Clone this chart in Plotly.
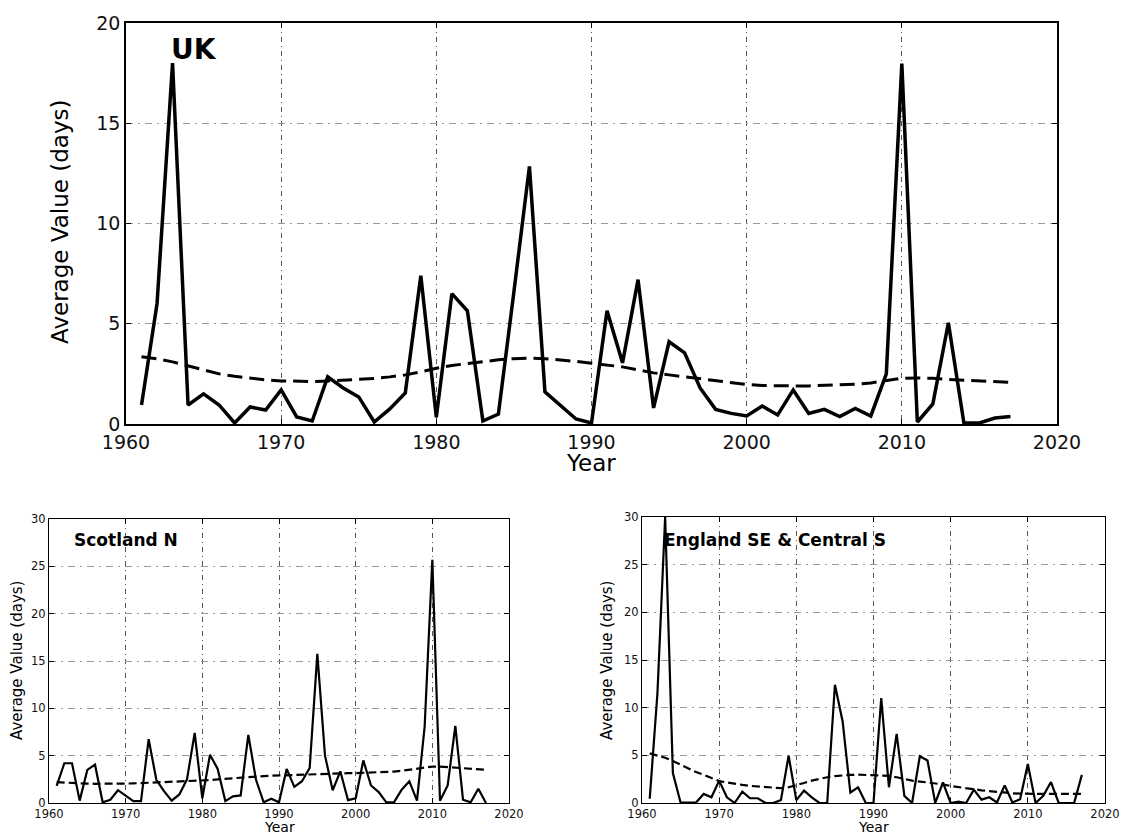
import plotly.graph_objects as go

years = list(range(1961, 2018))

uk_values = [0.95, 6.0, 18.0, 0.95, 1.5, 0.95, 0.05, 0.85, 0.7, 1.7,
             0.35, 0.15, 2.35, 1.8, 1.35, 0.1, 0.75, 1.55, 7.4, 0.33,
             6.5, 5.65, 0.15, 0.5, 6.6, 12.85, 1.6, 0.9, 0.25, 0.05,
             5.65, 3.05, 7.2, 0.8, 4.1, 3.55, 1.8, 0.73, 0.53, 0.4,
             0.9, 0.45, 1.7, 0.53, 0.73, 0.37, 0.78, 0.4, 2.5, 17.97,
             0.1, 1.0, 5.05, 0.05, 0.05, 0.3, 0.37]
uk_trend = [3.35, 3.25, 3.1, 2.9, 2.7, 2.5, 2.38, 2.28, 2.2, 2.15,
            2.12, 2.12, 2.15, 2.18, 2.22, 2.27, 2.35, 2.45, 2.6, 2.78,
            2.92, 3.02, 3.12, 3.2, 3.26, 3.28, 3.26, 3.2, 3.12, 3.03,
            2.95, 2.85, 2.7, 2.55, 2.45, 2.35, 2.25, 2.15, 2.05, 1.97,
            1.92, 1.9, 1.9, 1.9, 1.92, 1.95, 1.98, 2.05, 2.15, 2.28,
            2.3, 2.28, 2.22, 2.18, 2.14, 2.1, 2.08]

scot_values = [1.8, 4.2, 4.2, 0.25, 3.5, 4.05, 0.07, 0.35, 1.35, 0.8,
               0.2, 0.2, 6.75, 2.45, 1.25, 0.25, 0.9, 2.5, 7.4, 0.5,
               5.1, 3.6, 0.2, 0.7, 0.8, 7.2, 2.45, 0.07, 0.45, 0.07,
               3.6, 1.7, 2.3, 3.7, 15.75, 5.0, 1.35, 3.35, 0.3, 0.5,
               4.5, 1.85, 1.15, 0.07, 0.07, 1.4, 2.3, 0.25, 8.1, 25.7,
               0.25, 1.85, 8.15, 0.35, 0.07, 1.5, 0.0]
scot_trend = [2.2, 2.15, 2.1, 2.07, 2.05, 2.03, 2.02, 2.02, 2.03, 2.05,
              2.07, 2.1, 2.13, 2.16, 2.2, 2.23, 2.26, 2.29, 2.32, 2.36,
              2.42, 2.5, 2.57, 2.63, 2.7, 2.75, 2.8, 2.84, 2.88, 2.91,
              2.95, 3.0, 3.04, 3.07, 3.1, 3.12, 3.13, 3.14, 3.15, 3.16,
              3.18, 3.2, 3.23, 3.27, 3.32, 3.4, 3.5, 3.62, 3.75, 3.85,
              3.85, 3.8, 3.75, 3.68, 3.6, 3.55, 3.5]

eng_values = [0.45, 11.5, 30.0, 3.15, 0.05, 0.05, 0.05, 0.95, 0.6, 2.35,
              0.6, 0.0, 1.2, 0.5, 0.5, 0.0, 0.0, 0.3, 4.95, 0.3,
              1.3, 0.6, 0.0, 0.0, 12.4, 8.55, 1.1, 1.65, 0.0, 0.0,
              11.0, 1.65, 7.25, 0.75, 0.0, 4.9, 4.45, 0.0, 2.15, 0.0,
              0.15, 0.0, 1.4, 0.35, 0.6, 0.05, 1.85, 0.05, 0.4, 4.1,
              0.0, 0.75, 2.2, 0.0, 0.0, 0.0, 2.95]
eng_trend = [5.2, 5.0, 4.75, 4.4, 4.0, 3.6, 3.25, 2.95, 2.6, 2.3,
             2.15, 2.0, 1.9, 1.8, 1.72, 1.65, 1.58, 1.55, 1.65, 1.85,
             2.1, 2.35, 2.55, 2.7, 2.82, 2.9, 2.95, 2.97, 2.95, 2.9,
             2.88, 2.85, 2.7, 2.5, 2.35, 2.25, 2.15, 2.08, 1.95, 1.78,
             1.65, 1.55, 1.42, 1.33, 1.25, 1.15, 1.08, 1.02, 0.98, 0.95,
             0.95, 0.95, 0.95, 0.95, 0.95, 0.95, 0.95]

W, H = 1121, 836
FONT = "DejaVu Sans"

fig = go.Figure()

panels = [
    # (values, trend, axis suffix, solid width, dash width, dash pattern)
    (uk_values, uk_trend, "", 3.5, 3, "15px,7px"),
    (scot_values, scot_trend, "2", 2.2, 2.2, "8px,4px"),
    (eng_values, eng_trend, "3", 2.2, 2.2, "8px,4px"),
]
for vals, trend, sfx, lw, dw, dash in panels:
    fig.add_trace(go.Scatter(x=years, y=vals, mode="lines",
                             line=dict(color="black", width=lw),
                             xaxis="x" + sfx, yaxis="y" + sfx,
                             showlegend=False, hoverinfo="x+y"))
    fig.add_trace(go.Scatter(x=years, y=trend, mode="lines",
                             line=dict(color="black", width=dw, dash=dash),
                             xaxis="x" + sfx, yaxis="y" + sfx,
                             showlegend=False, hoverinfo="x+y"))


def px_x(p):
    return p / W


def px_y(p):
    return 1 - p / H


def axis_pair(xdom, ydom, yrange, dtick_y, tick_size, frame_w, anchor_x, anchor_y):
    common = dict(showline=True, mirror="ticks", linecolor="black", linewidth=frame_w,
                  ticks="inside", ticklen=5, tickcolor="black", automargin=False,
                  tickfont=dict(family=FONT, size=tick_size, color="#111"),
                  showgrid=True, gridwidth=1, zeroline=False)
    xa = dict(common, domain=xdom, range=[1960, 2020], dtick=10, tick0=1960,
              anchor=anchor_y, gridcolor="#555", griddash="5px,4px,1px,4px")
    ya = dict(common, domain=ydom, range=yrange, dtick=dtick_y, tick0=0,
              anchor=anchor_x, gridcolor="#999", griddash="7px,5px,2px,5px")
    return xa, ya


xa1, ya1 = axis_pair([px_x(126), px_x(1057)], [px_y(424), px_y(23)], [0, 20], 5, 19, 1.5, "x", "y")
xa2, ya2 = axis_pair([px_x(49), px_x(509)], [px_y(803), px_y(519)], [0, 30], 5, 11.5, 1, "x2", "y2")
xa3, ya3 = axis_pair([px_x(642), px_x(1105)], [px_y(803), px_y(517)], [0, 30], 5, 11.5, 1, "x3", "y3")

fig.update_layout(
    width=W, height=H,
    margin=dict(l=0, r=0, t=0, b=0, autoexpand=False),
    paper_bgcolor="white", plot_bgcolor="white",
    font=dict(family=FONT, color="black"),
    xaxis=xa1, yaxis=ya1,
    xaxis2=xa2, yaxis2=ya2,
    xaxis3=xa3, yaxis3=ya3,
)


def label(text, x, y, size, angle=0):
    return dict(text=text, x=px_x(x), y=px_y(y), xref="paper", yref="paper",
                xanchor="center", yanchor="middle", textangle=angle,
                showarrow=False, font=dict(size=size))


annotations = [
    # panel titles
    dict(text="<b>UK</b>", x=1962.8, y=18, xref="x", yref="y", xanchor="left",
         yanchor="bottom", yshift=-5, showarrow=False, font=dict(size=28)),
    dict(text="<b>Scotland N</b>", x=px_x(72), y=px_y(540), xref="paper", yref="paper",
         xanchor="left", yanchor="middle", showarrow=False, font=dict(size=17)),
    dict(text="<b>England SE &amp; Central S</b>", x=px_x(662), y=px_y(540), xref="paper",
         yref="paper", xanchor="left", yanchor="middle", showarrow=False, font=dict(size=17)),
    # axis titles
    label("Average Value (days)", 60, 222, 23, -90),
    label("Year", 591, 463, 23),
    label("Average Value (days)", 17, 661, 15, -90),
    label("Year", 279, 827, 14),
    label("Average Value (days)", 607, 661, 15, -90),
    label("Year", 873, 827, 14),
]
fig.update_layout(annotations=annotations)

# the page's default body margin would shift the figure by 8px
fig.write_html("out.html", config={"displayModeBar": False},
               post_script="document.body.style.margin='0';")
